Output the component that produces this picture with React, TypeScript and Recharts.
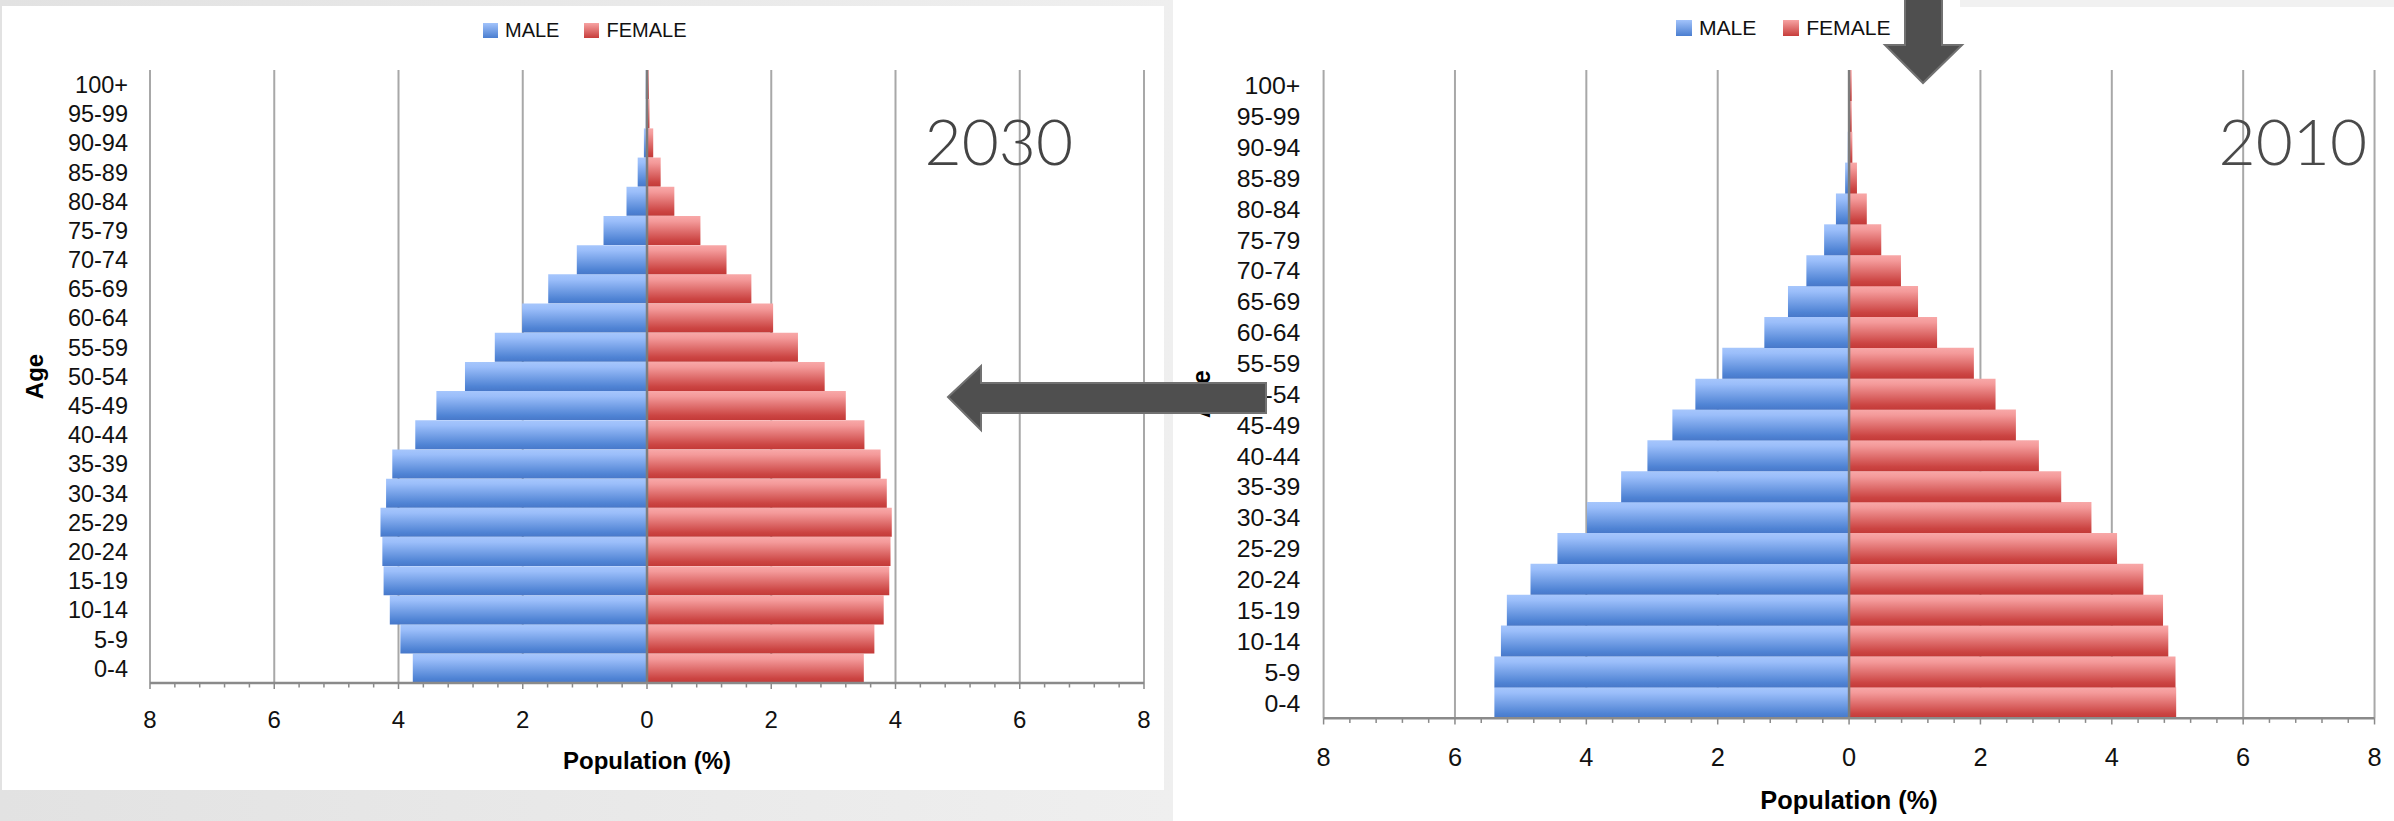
import React from 'react';
import { BarChart, Bar, XAxis, YAxis, CartesianGrid, ReferenceLine, Legend } from 'recharts';

// Age groups, youngest first (drawn bottom to top)
const AGE_GROUPS = [
  '0-4', '5-9', '10-14', '15-19', '20-24', '25-29', '30-34', '35-39', '40-44', '45-49',
  '50-54', '55-59', '60-64', '65-69', '70-74', '75-79', '80-84', '85-89', '90-94', '95-99', '100+',
];

// Share of total population (%), projection for 2030
const MALE_2030 = [3.77, 3.97, 4.14, 4.24, 4.26, 4.29, 4.2, 4.1, 3.73, 3.39, 2.93, 2.45, 2.01, 1.59, 1.13, 0.7, 0.33, 0.15, 0.05, 0.02, 0.02];
const FEMALE_2030 = [3.49, 3.66, 3.81, 3.9, 3.92, 3.94, 3.86, 3.76, 3.5, 3.2, 2.86, 2.43, 2.03, 1.68, 1.28, 0.86, 0.44, 0.22, 0.1, 0.04, 0.03];

// Share of total population (%), 2010
const MALE_2010 = [5.4, 5.4, 5.3, 5.21, 4.85, 4.44, 3.99, 3.47, 3.07, 2.69, 2.34, 1.93, 1.29, 0.93, 0.65, 0.38, 0.2, 0.06, 0.02, 0.01, 0.01];
const FEMALE_2010 = [4.98, 4.97, 4.86, 4.78, 4.48, 4.08, 3.69, 3.23, 2.89, 2.54, 2.23, 1.9, 1.34, 1.05, 0.79, 0.49, 0.27, 0.12, 0.05, 0.04, 0.04];

// Value axis: labelled ticks every 2, small tick marks every 0.4
const MAJOR_TICKS = [-8, -6, -4, -2, 0, 2, 4, 6, 8];
const AXIS_MIN = -8;
const MINOR_STEP = 0.4;
const MINOR_COUNT = 41;
const AXIS_TICKS = Array.from({ length: MINOR_COUNT }, (_, i) => Math.round((AXIS_MIN + i * MINOR_STEP) * 10) / 10);

const SERIES_KEYS = ['male', 'female'];
const SERIES_NAMES: Record<string, string> = { male: 'MALE', female: 'FEMALE' };

const SANS = '"Liberation Sans", Arial, Helvetica, sans-serif';
const LEGEND_FONT = '"Liberation Sans", Arial, sans-serif';

const LEGEND_SWATCH: Record<string, string> = {
  male: 'linear-gradient(#a2c3fb, #4a7ed0)',
  female: 'linear-gradient(#f7a3a3, #c73d3b)',
};

type Row = { age: string; male: number; female: number };

const buildRows = (male: number[], female: number[]): Row[] =>
  AGE_GROUPS.map((age, i) => ({ age, male: -male[i], female: female[i] }));

function ValueTick(props: any) {
  const { x, y, payload, s } = props;
  const v = payload.value;
  const major = MAJOR_TICKS.includes(v);
  return (
    <g>
      <line x1={x} x2={x} y1={y} y2={y + (major ? 6 : 4.5) * s} stroke="#8a8a8a" strokeWidth={1.5} />
      {major && (
        <text x={x} y={y + 45 * s} textAnchor="middle" fontFamily={SANS} fontSize={24 * s} fill="#111">
          {Math.abs(v)}
        </text>
      )}
    </g>
  );
}

type PyramidProps = {
  id: string;
  male: number[];
  female: number[];
  x0: number;
  y0: number;
  s: number;
};

function Pyramid({ id, male, female, x0, y0, s }: PyramidProps) {
  const rows = buildRows(male, female);
  const width = 1164 * s;
  const height = 790 * s;

  const renderLegend = (props: any) => {
    const items = [...(props.payload || [])].sort(
      (a: any, b: any) => SERIES_KEYS.indexOf(a.dataKey) - SERIES_KEYS.indexOf(b.dataKey),
    );
    return (
      <div style={{ display: 'flex', alignItems: 'center', fontFamily: LEGEND_FONT, fontSize: 20 * s, lineHeight: `${22 * s}px`, color: '#111' }}>
        {items.map((it: any) => (
          <div key={it.dataKey} style={{ display: 'flex', alignItems: 'center', marginRight: 25 * s }}>
            <span style={{ display: 'inline-block', width: 15 * s, height: 15 * s, background: LEGEND_SWATCH[it.dataKey], marginRight: 7 * s }} />
            <span>{it.value}</span>
          </div>
        ))}
      </div>
    );
  };

  return (
    <div style={{ position: 'absolute', left: x0, top: y0 }}>
      <BarChart
        width={width}
        height={height}
        data={rows}
        layout="vertical"
        stackOffset="sign"
        barCategoryGap={0}
        margin={{ top: 70 * s, right: 20 * s, left: 0, bottom: 0 }}
      >
        <defs>
          <linearGradient id={`male-${id}`} x1="0" y1="0" x2="0" y2="1">
            <stop offset="0%" stopColor="#a6c6fc" />
            <stop offset="18%" stopColor="#9bbefa" />
            <stop offset="85%" stopColor="#4f83d4" />
            <stop offset="100%" stopColor="#4878c9" />
          </linearGradient>
          <linearGradient id={`female-${id}`} x1="0" y1="0" x2="0" y2="1">
            <stop offset="0%" stopColor="#f8a8a8" />
            <stop offset="18%" stopColor="#f49a9a" />
            <stop offset="85%" stopColor="#cb4442" />
            <stop offset="100%" stopColor="#c33a38" />
          </linearGradient>
        </defs>
        <CartesianGrid horizontal={false} vertical verticalValues={MAJOR_TICKS} stroke="#a8a8a8" strokeWidth={2} />
        <XAxis
          type="number"
          domain={[-8, 8]}
          ticks={AXIS_TICKS}
          interval={0}
          height={107 * s}
          tickSize={0}
          tickMargin={0}
          tickLine={false}
          axisLine={{ stroke: '#8a8a8a', strokeWidth: 2.5 }}
          tick={(p: any) => <ValueTick {...p} s={s} />}
          label={{
            value: 'Population (%)',
            content: (p: any) => {
              const vb = p.viewBox || {};
              return (
                <text x={vb.x + vb.width / 2} y={vb.y + 86 * s} textAnchor="middle" fontFamily={SANS} fontWeight="bold" fontSize={24 * s} fill="#000">
                  Population (%)
                </text>
              );
            },
          }}
        />
        <YAxis
          type="category"
          dataKey="age"
          reversed
          width={150 * s}
          interval={0}
          tickSize={0}
          tickMargin={22 * s}
          axisLine={false}
          tickLine={false}
          tick={{ fontFamily: SANS, fontSize: 23.5 * s, fill: '#111' }}
          label={{
            value: 'Age',
            content: (p: any) => {
              const vb = p.viewBox || {};
              const cx = vb.x + 34.5 * s;
              const cy = vb.y + vb.height / 2;
              return (
                <text x={cx} y={cy} transform={`rotate(-90, ${cx}, ${cy})`} textAnchor="middle" dominantBaseline="central" fontFamily={SANS} fontWeight="bold" fontSize={24 * s} fill="#000">
                  Age
                </text>
              );
            },
          }}
        />
        <Legend
          layout="vertical"
          align="center"
          verticalAlign="middle"
          content={renderLegend}
          wrapperStyle={{ top: 19 * s, left: 483 * s, width: 420 * s, height: 22 * s }}
        />
        <Bar dataKey="male" name={SERIES_NAMES.male} stackId="pop" fill={`url(#male-${id})`} isAnimationActive={false} />
        <Bar dataKey="female" name={SERIES_NAMES.female} stackId="pop" fill={`url(#female-${id})`} isAnimationActive={false} />
        <ReferenceLine x={0} stroke="#7c7c7c" strokeWidth={2.5} />
      </BarChart>
    </div>
  );
}

export default function App() {
  return (
    <div
      style={{
        position: 'absolute',
        left: 0,
        top: 0,
        width: 2394,
        height: 821,
        overflow: 'hidden',
        background: '#ffffff',
      }}
    >
      {/* slide backdrop behind the 2030 panel */}
      <div style={{ position: 'absolute', left: 0, top: 0, width: 1173, height: 821, background: 'linear-gradient(90deg, #e2e2e2, #efefef)' }} />
      <div style={{ position: 'absolute', left: 1960, top: 0, width: 434, height: 7, background: '#f1f1f1' }} />
      <div style={{ position: 'absolute', left: 2, top: 6, width: 1162, height: 784, background: '#ffffff' }} />

      <Pyramid id="y2030" male={MALE_2030} female={FEMALE_2030} x0={0} y0={0} s={1} />
      <Pyramid id="y2010" male={MALE_2010} female={FEMALE_2010} x0={1165} y0={-4} s={1.0573} />

      <svg width={2394} height={821} style={{ position: 'absolute', left: 0, top: 0, pointerEvents: 'none' }}>
        <text x={1073} y={165} textAnchor="end" fontFamily="Lato, 'Open Sans', sans-serif" fontWeight={300} fontSize={64} fill="#444">
          2030
        </text>
        <text x={2367} y={165} textAnchor="end" fontFamily="Lato, 'Open Sans', sans-serif" fontWeight={300} fontSize={64} fill="#4a4a4a">
          2010
        </text>
        {/* arrow pointing from the 2010 pyramid back to 2030 */}
        <polygon
          points="948,397 981,366 981,383 1266,383 1266,413 981,413 981,430"
          fill="#4f4f4f"
          stroke="#717171"
          strokeWidth={2}
        />
        {/* arrow pointing down into the 2010 pyramid */}
        <polygon
          points="1905,-3 1942,-3 1942,45 1962,45 1923,83 1885,45 1905,45"
          fill="#4f4f4f"
          stroke="#717171"
          strokeWidth={2}
        />
      </svg>
    </div>
  );
}
